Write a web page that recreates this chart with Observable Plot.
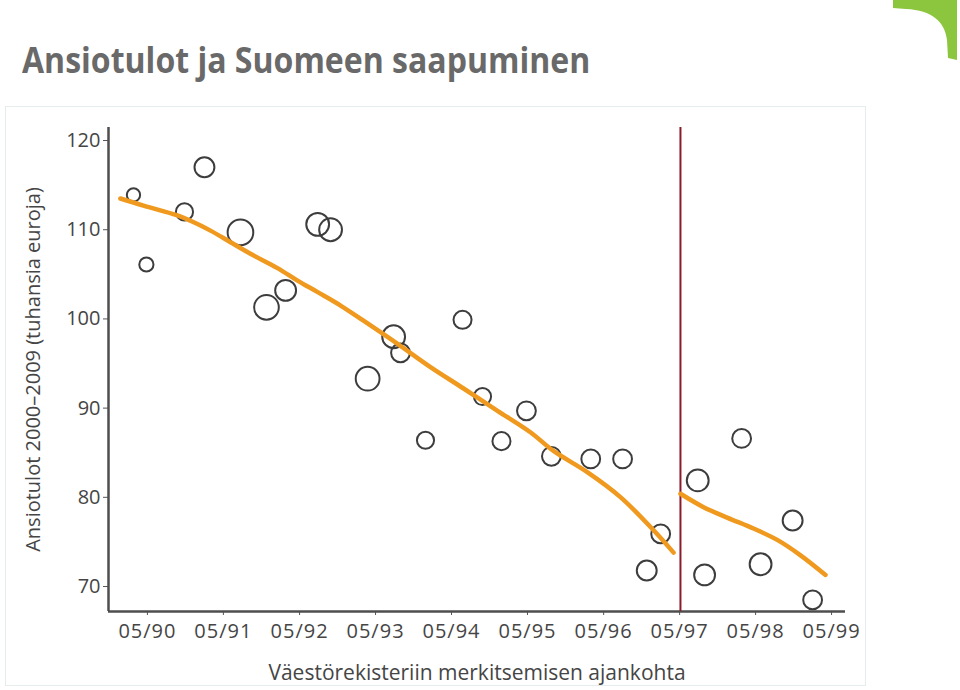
<!DOCTYPE html>
<html>
<head>
<meta charset="utf-8">
<script src="https://cdn.jsdelivr.net/npm/d3@7"></script>
<script src="https://cdn.jsdelivr.net/npm/@observablehq/plot@0.6"></script>
<style>
  html, body { margin: 0; padding: 0; background: #fff; }
  #page { position: relative; width: 960px; height: 690px; overflow: hidden; background: #fff; }
  #title { position: absolute; left: 22px; top: 36px; font-family: "Open Sans", sans-serif; font-weight: bold; font-size: 35px; color: #696969; white-space: nowrap; transform: scaleX(0.915); transform-origin: 0 0; }
  #panel { position: absolute; left: 5px; top: 106px; width: 861px; height: 580px; border: 1px solid #e6ebee; box-sizing: border-box; }
  #chart { position: absolute; left: 0; top: 106px; }
  #logo { position: absolute; left: 0; top: 0; }
  #chart svg g[aria-label="x-axis tick label"] { font-size: 20px; letter-spacing: 1px; }
  #chart svg g[aria-label="y-axis tick label"] { font-size: 20px; }
  #chart svg g[aria-label="y-axis label"] { font-size: 20px; }
  #chart svg g[aria-label="x-axis label"] { font-size: 21px; }
</style>
</head>
<body>
<div id="page">
  <svg id="logo" width="960" height="70"><path d="M893,0 L957,0 L957,60 L948,58 L947,40 C945,22 932,10 906,9 L893,8 Z" fill="#8cc63f"/></svg>
  <div id="title">Ansiotulot ja Suomeen saapuminen</div>
  <div id="panel"></div>
  <div id="chart"></div>
</div>
<script>
// Tick values and labels
const xTickDates = ["1990-05-01","1991-05-01","1992-05-01","1993-05-01","1994-05-01","1995-05-01","1996-05-01","1997-05-01","1998-05-01","1999-05-01"];
const xTickLabels = ["05/90","05/91","05/92","05/93","05/94","05/95","05/96","05/97","05/98","05/99"];
const yTicks = [70, 80, 90, 100, 110, 120];

// Observations: registration date, mean earnings (1000 €), group size
const obsDates = ["1990-02-23","1990-04-26","1990-10-26","1991-01-30","1991-07-22","1991-11-24","1992-02-24","1992-07-27","1992-09-27","1993-03-24","1993-07-27","1993-08-29","1993-12-27","1994-06-23","1994-09-27","1994-12-27","1995-04-26","1995-08-24","1996-02-29","1996-07-31","1996-11-24","1997-01-30","1997-07-27","1997-08-29","1998-02-23","1998-05-25","1998-10-26","1999-01-30"];
const obsIncome = [113.9,106.1,112.0,117.0,109.7,101.3,103.2,110.6,110.0,93.3,98.0,96.2,86.4,99.9,91.3,86.3,89.7,84.6,84.3,84.3,71.8,75.9,81.9,71.3,86.6,72.5,77.4,68.5];
const obsSize = [50,57,83,112,186,172,123,147,147,160,147,100,83,92,83,92,100,100,100,100,112,100,135,123,100,135,112,100];

// Smoothed trend before the cut-off
const trend1Dates = ["1989-12-22","1990-04-12","1990-09-22","1990-11-24","1991-02-28","1991-06-04","1991-09-08","1992-01-16","1992-04-21","1992-07-27","1992-11-14","1993-03-04","1993-08-15","1994-01-20","1994-06-28","1994-12-08","1995-05-15","1995-09-03","1996-02-14","1996-07-22","1996-12-27","1997-04-02"];
const trend1Values = [113.5,112.7,111.6,111.0,109.9,108.6,107.3,105.7,104.3,103.0,101.5,99.8,97.2,94.6,92.2,89.7,87.3,85.2,82.8,80.0,76.3,73.8];
// Smoothed trend after the cut-off
const trend2Dates = ["1997-05-05","1997-08-24","1997-12-18","1998-04-21","1998-08-15","1998-12-03","1999-04-02"];
const trend2Values = [80.4,78.9,77.7,76.5,75.2,73.5,71.3];

const cutoffDate = "1997-05-05";
const xDomain = ["1989-10-26","1999-07-07"];
const yDomain = [67.2, 121.46];

const parse = s => new Date(s + "T00:00:00Z");
const points = obsDates.map((d, i) => ({date: parse(d), income: obsIncome[i], n: obsSize[i]}));
const trend1 = trend1Dates.map((d, i) => ({date: parse(d), income: trend1Values[i]}));
const trend2 = trend2Dates.map((d, i) => ({date: parse(d), income: trend2Values[i]}));
const tickDates = xTickDates.map(parse);
const labelFor = d => xTickLabels[tickDates.findIndex(t => +t === +d)];

const chart = Plot.plot({
  width: 870,
  height: 582,
  marginLeft: 108,
  marginRight: 25,
  marginTop: 21,
  marginBottom: 77,
  style: {fontFamily: "Open Sans", fontSize: "20px", color: "#454545", background: "transparent", overflow: "visible"},
  x: {type: "utc", domain: xDomain.map(parse)},
  y: {domain: yDomain},
  r: {type: "sqrt", domain: [0, 200], range: [0, 13.3]},
  marks: [
    Plot.axisY({ticks: yTicks, tickSize: 5, tickPadding: 3, stroke: "#555", label: "Ansiotulot 2000–2009 (tuhansia euroja)", labelAnchor: "center", labelArrow: "none", labelOffset: 83, fontSize: 20}),
    Plot.axisX({ticks: tickDates, tickFormat: labelFor, tickSize: 4, tickPadding: 8, stroke: "#555", label: "Väestörekisteriin merkitsemisen ajankohta", labelAnchor: "center", labelArrow: "none", labelOffset: 68, fontSize: 20}),
    Plot.ruleX([parse(xDomain[0])], {stroke: "#4e4e4e", strokeWidth: 2.5}),
    Plot.ruleY([yDomain[0]], {stroke: "#4e4e4e", strokeWidth: 2.5}),
    Plot.ruleX([parse(cutoffDate)], {stroke: "#8b1a2a", strokeWidth: 2}),
    Plot.dot(points, {x: "date", y: "income", r: "n", stroke: "#3d3d3d", strokeWidth: 2, fill: "none"}),
    Plot.line(trend1, {x: "date", y: "income", stroke: "#f0991f", strokeWidth: 4.5, curve: "catmull-rom", strokeLinecap: "round"}),
    Plot.line(trend2, {x: "date", y: "income", stroke: "#f0991f", strokeWidth: 4.5, curve: "catmull-rom", strokeLinecap: "round"})
  ]
});
document.getElementById("chart").appendChild(chart);
</script>
</body>
</html>
